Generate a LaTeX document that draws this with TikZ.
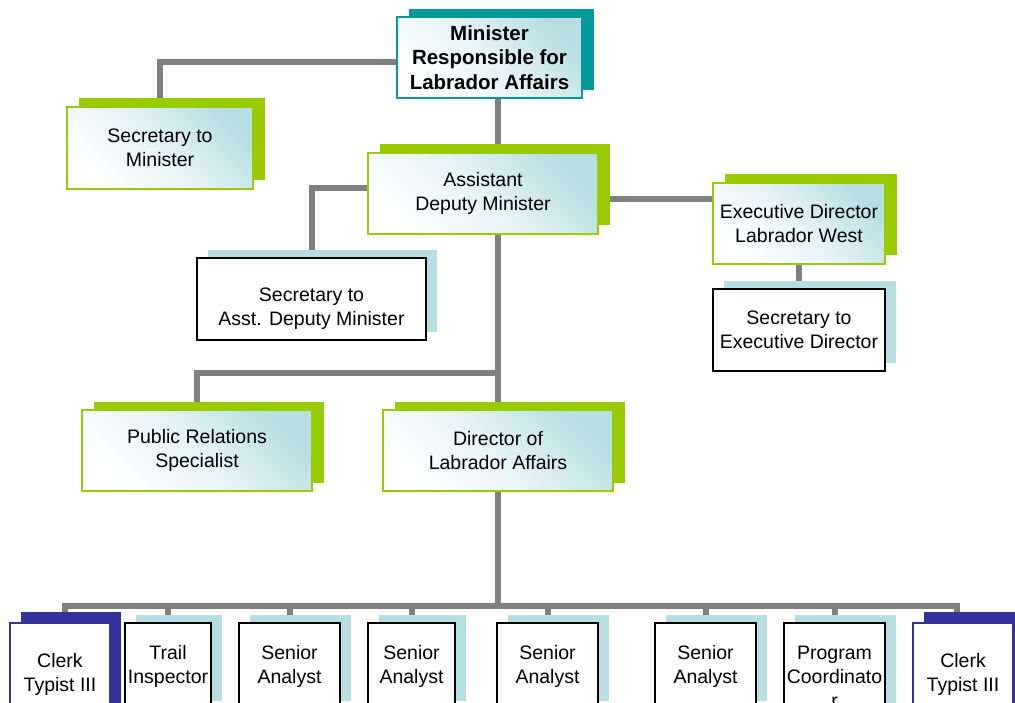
\documentclass[tikz,border=0pt]{standalone}
\usepackage{fontspec}
\setmainfont{Liberation Sans}
\usetikzlibrary{shadows,backgrounds}

\definecolor{limegreen}{RGB}{153,204,0}
\definecolor{darkteal}{RGB}{0,153,153}
\definecolor{tint}{RGB}{183,222,226}
\definecolor{navy}{RGB}{51,51,153}
\definecolor{linkgrey}{RGB}{128,128,128}

\begin{document}
\begin{tikzpicture}[x=1pt, y=-1pt,
  box/.style={rectangle, align=center, inner sep=0pt, text=black,
    font=\fontsize{19.5}{24}\selectfont},
  shade/.style={top color=tint, bottom color=white, middle color=tint!35!white, shading angle=-45},
  greenbox/.style={box, shade, draw=limegreen, line width=2pt,
    general shadow={fill=limegreen, shadow xshift=11.5pt, shadow yshift=8.5pt}},
  tealbox/.style={box, shade, draw=darkteal, line width=2pt,
    font=\bfseries\fontsize{20.5}{24.5}\selectfont,
    general shadow={fill=darkteal, shadow xshift=12pt, shadow yshift=8pt}},
  plainbox/.style={box, fill=white, draw=black, line width=2pt,
    general shadow={fill=tint, shadow xshift=10.5pt, shadow yshift=8pt}},
  clerkbox/.style={box, fill=white, draw=navy, line width=1.5pt,
    general shadow={fill=navy, shadow xshift=11pt, shadow yshift=11pt}},
  link/.style={draw=linkgrey, line width=6pt}
]
  \useasboundingbox (0,0) rectangle (1015,703);

  %Define nodes
  \node[tealbox, minimum width=185pt, minimum height=81pt] (min) at (489.5,57.5)
    {Minister\\Responsible for\\Labrador Affairs};
  \node[greenbox, minimum width=186pt, minimum height=82pt] (secmin) at (160,148)
    {Secretary to\\Minister};
  \node[greenbox, minimum width=230pt, minimum height=81pt] (adm) at (483,193.5)
    {Assistant\\Deputy Minister};
  \node[greenbox, minimum width=172pt, minimum height=81pt] (exec) at (799,223.5)
    {Executive Director\\Labrador West};
  \node[plainbox, minimum width=172pt, minimum height=82pt] (secexec) at (799,330)
    {Secretary to\\Executive Director};
  \node[plainbox, minimum width=229pt, minimum height=82pt] (secadm) at (311.5,299)
    {\rule{0pt}{34pt}Secretary to\\Asst. Deputy Minister};
  \node[greenbox, minimum width=230pt, minimum height=81pt] (pr) at (197,450.5)
    {Public Relations\\Specialist};
  \node[greenbox, minimum width=230pt, minimum height=81pt] (dir) at (498,450.5)
    {Director of\\Labrador Affairs};

  % bottom row
  \node[clerkbox, anchor=north, minimum width=100pt, minimum height=104pt] (clerkl) at (60,622)
    {Clerk\\Typist III};
  \node[plainbox, anchor=north, minimum width=86pt, minimum height=86pt] (trail) at (168,622)
    {Trail\\Inspector};
  \node[plainbox, anchor=north, minimum width=101pt, minimum height=86pt] (sa1) at (289.5,622)
    {Senior\\Analyst};
  \node[plainbox, anchor=north, minimum width=87pt, minimum height=86pt] (sa2) at (411.5,622)
    {Senior\\Analyst};
  \node[plainbox, anchor=north, minimum width=101pt, minimum height=86pt] (sa3) at (547.5,622)
    {Senior\\Analyst};
  \node[plainbox, anchor=north, minimum width=101pt, minimum height=86pt] (sa4) at (705.5,622)
    {Senior\\Analyst};
  \node[plainbox, anchor=north, minimum width=101pt, minimum height=108pt] (prog) at (834.5,622)
    {Program\\Coordinato\\r};
  \node[clerkbox, anchor=north, minimum width=100pt, minimum height=104pt] (clerkr) at (963,622)
    {Clerk\\Typist III};

  % Connect the nodes
  \begin{pgfonlayer}{background}
    \draw[link] ([yshift=-4.5pt]min.west) -| (secmin.north);
    \draw[link] (min.south -| dir.north) -- (dir.north);
    \draw[link] ([yshift=5.5pt]adm.west) -| (secadm.north);
    \draw[link] ([yshift=-5.5pt]adm.east) coordinate (admr) -- (admr -| exec.west);
    \draw[link] (exec.south) -- (secexec.north);
    \coordinate (prjoin) at (dir.north |- 0,373);
    \draw[link] (prjoin) -| (pr.north);
    \coordinate (bar) at (dir.south |- 0,606);
    \draw[link] (dir.south) -- (bar);
    \draw[link] ([xshift=5pt]clerkl.north) |- (bar) -| ([xshift=-6pt]clerkr.north);
    \foreach \n in {trail,sa1,sa2,sa3,sa4,prog}
      \draw[link] (\n.north |- bar) -- (\n.north);
  \end{pgfonlayer}

\end{tikzpicture}
\end{document}
